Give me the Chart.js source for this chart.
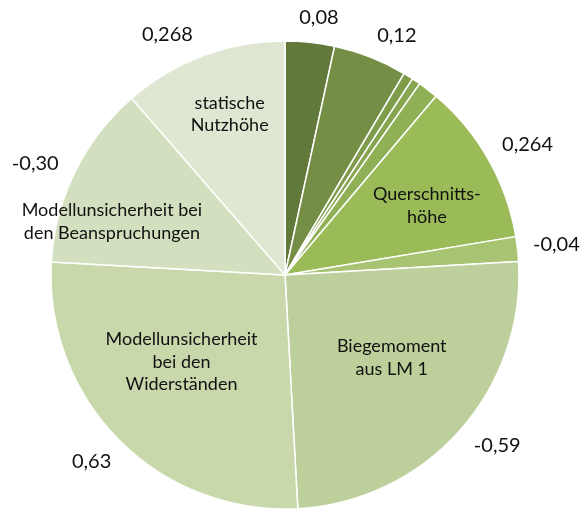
<!DOCTYPE html>
<html>
<head>
<meta charset="utf-8">
<script src="https://cdn.jsdelivr.net/npm/chart.js@4.4.1/dist/chart.umd.min.js"></script>
<style>
  html, body { margin: 0; padding: 0; background: #fff; }
  #wrap { width: 582px; height: 510px; overflow: hidden; }
</style>
</head>
<body>
<div id="wrap"><canvas id="pieChart" width="582" height="510"></canvas></div>
<script>
// sensitivity factors (alpha); slice size is |alpha|
const categories = ['', '', '', '', '', 'Querschnitts-\nhöhe', '', 'Biegemoment\naus LM 1',
    'Modellunsicherheit\nbei den\nWiderständen', 'Modellunsicherheit bei\nden Beanspruchungen', 'statische\nNutzhöhe'];
const alphaValues = [0.08, 0.12, 0.016, 0.014, 0.033, 0.264, -0.04, -0.59, 0.63, -0.30, 0.268];
const valueLabels = ['0,08', '0,12', '', '', '', '0,264', '-0,04', '-0,59', '0,63', '-0,30', '0,268'];

const sliceColors = ['#61793a', '#748f45', '#7f9c4b', '#87a44f', '#90b055', '#9bbb59',
    '#a8c473', '#bdd09c', '#c8d8ab', '#d3e0bf', '#dfe7d2'];

// [radius fraction, angle shift in deg] for the names inside the slices
const innerPlacement = {5: [0.675, 3.5], 7: [0.577, -4], 8: [0.577, 5], 9: [0.774, -9], 10: [0.727, 1.5]};
// angle shift in deg for the value labels outside (hand placed like in excel)
const valueShift = {0: 1.4, 1: 3.6, 5: 1.4, 7: -3, 8: 1, 9: -2, 10: -5.6};

const labelPlugin = {
    id: 'pieLabels',
    afterDatasetsDraw(chart, args, opts) {
        const ctx = chart.ctx;
        const arcs = chart.getDatasetMeta(0).data;
        ctx.save();
        ctx.fillStyle = '#111111';
        ctx.textAlign = 'center';
        ctx.textBaseline = 'middle';
        arcs.forEach((arc, i) => {
            const {x, y, startAngle, endAngle, outerRadius} =
                arc.getProps(['x', 'y', 'startAngle', 'endAngle', 'outerRadius'], true);
            const mid = (startAngle + endAngle) / 2;

            if (valueLabels[i]) {
                const a = mid + (valueShift[i] || 0) * Math.PI / 180;
                const c = Math.cos(a), s = Math.sin(a);
                ctx.font = opts.valueFont;
                const w = ctx.measureText(valueLabels[i]).width;
                const r = outerRadius + opts.gap + Math.abs(c) * w / 2 + Math.abs(s) * opts.valueHeight / 2;
                ctx.fillText(valueLabels[i], x + c * r, y + s * r);
            }

            const name = categories[i];
            if (name) {
                const place = innerPlacement[i] || [0.6, 0];
                const a = mid + place[1] * Math.PI / 180;
                const r = outerRadius * place[0];
                const lines = name.split('\n');
                ctx.font = opts.nameFont;
                lines.forEach((ln, k) => {
                    ctx.fillText(ln, x + Math.cos(a) * r,
                        y + Math.sin(a) * r + (k - (lines.length - 1) / 2) * opts.lineHeight);
                });
            }
        });
        ctx.restore();
    }
};

const config = {
    type: 'pie',
    data: {
        labels: categories.map(c => c.replace(/\n/g, ' ')),
        datasets: [{
            data: alphaValues.map(v => Math.abs(v)),
            backgroundColor: sliceColors,
            borderColor: '#ffffff',
            borderWidth: 1.5
        }]
    },
    options: {
        responsive: false,
        animation: false,
        devicePixelRatio: 1,
        radius: 234,
        layout: {
            padding: {top: 40, bottom: 0, left: 0, right: 12}
        },
        plugins: {
            legend: {display: false},
            tooltip: {enabled: false},
            pieLabels: {
                valueFont: '20px Lato',
                valueHeight: 16,
                nameFont: '18px Lato',
                lineHeight: 22.5,
                gap: 15
            }
        }
    },
    plugins: [labelPlugin]
};

new Chart(document.getElementById('pieChart'), config);
</script>
</body>
</html>
